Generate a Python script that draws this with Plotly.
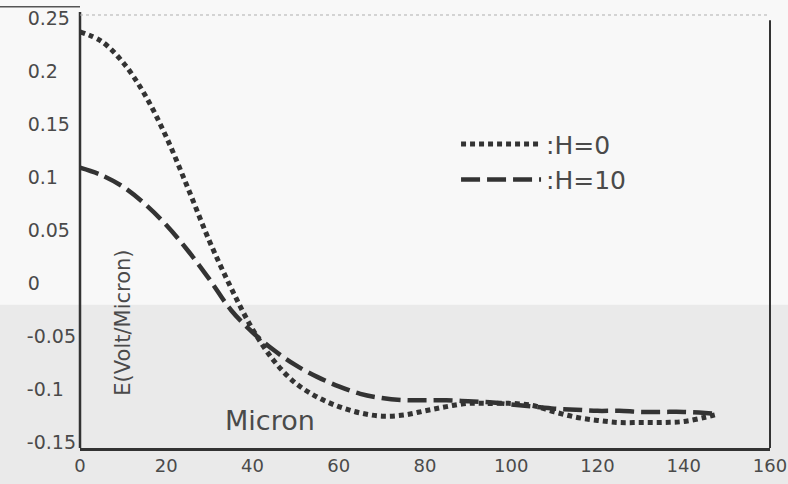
import plotly.graph_objects as go

# ---- data ----
x_h0 = [0, 5, 10, 15, 20, 25, 30, 35, 40, 45, 50, 55, 60, 65, 70, 75, 80, 85, 90,
        95, 100, 105, 110, 115, 120, 125, 130, 135, 140, 145, 148]
y_h0 = [0.237, 0.228, 0.208, 0.178, 0.138, 0.090, 0.040, -0.004, -0.043, -0.073,
        -0.094, -0.107, -0.116, -0.122, -0.125, -0.124, -0.120, -0.116, -0.113,
        -0.113, -0.113, -0.115, -0.121, -0.126, -0.129, -0.131, -0.131, -0.131,
        -0.130, -0.126, -0.123]

x_h10 = [0, 5, 10, 15, 20, 25, 30, 35, 40, 45, 50, 55, 60, 65, 70, 75, 80, 85, 90,
         95, 100, 105, 110, 115, 120, 125, 130, 135, 140, 145, 148]
y_h10 = [0.109, 0.102, 0.091, 0.075, 0.055, 0.031, 0.004, -0.025, -0.046, -0.063,
         -0.077, -0.088, -0.097, -0.104, -0.108, -0.110, -0.110, -0.110, -0.111,
         -0.112, -0.114, -0.116, -0.118, -0.119, -0.120, -0.120, -0.121, -0.121,
         -0.121, -0.122, -0.123]

series_names = [":H=0", ":H=10"]
x_ticks = [0, 20, 40, 60, 80, 100, 120, 140, 160]
y_ticks = [0.25, 0.2, 0.15, 0.1, 0.05, 0, -0.05, -0.1, -0.15]
y_tick_labels = ["0.25", "0.2", "0.15", "0.1", "0.05", "0", "-0.05", "-0.1", "-0.15"]
y_title = "E(Volt/Micron)"
x_title = "Micron"

INK = "#333333"
TXT = "#4a4a4a"
FONT = "DejaVu Sans"

# left-align the y tick labels by right-padding with fixed-width spaces
FIG = "\u2007"   # digit width
PUN = "\u2008"   # period width
def pad(s):
    target = 2.587  # width (em) of "-0.05"
    w = sum(0.361 if c == "-" else 0.318 if c == "." else 0.636 for c in s)
    out = s
    rem = target - w
    while rem > 0.6:
        out += FIG
        rem -= 0.636
    while rem > 0.2:
        out += PUN
        rem -= 0.318
    return out

fig = go.Figure()
fig.add_trace(go.Scatter(
    x=x_h0, y=y_h0, mode="lines", name=series_names[0],
    line=dict(color=INK, width=5, dash="5px,4px", shape="spline", smoothing=1.0),
))
fig.add_trace(go.Scatter(
    x=x_h10, y=y_h10, mode="lines", name=series_names[1],
    line=dict(color=INK, width=4.5, dash="19px,7px", shape="spline", smoothing=1.0),
))

shapes = [
    # scanned paper tones
    dict(type="rect", xref="paper", yref="paper", x0=-0.2, x1=1.1, y0=0.333, y1=1.1,
         fillcolor="#f8f8f8", line=dict(width=0), layer="below"),
    dict(type="rect", xref="paper", yref="paper", x0=-0.2, x1=1.1, y0=-0.1, y1=0.333,
         fillcolor="#eaeaea", line=dict(width=0), layer="below"),
    # left axis line (extends slightly above the top)
    dict(type="line", xref="paper", yref="paper", x0=0, x1=0, y0=0, y1=1.014,
         line=dict(color=INK, width=2.5)),
    # stray top-left rule
    dict(type="line", xref="paper", yref="paper", x0=-0.116, x1=0, y0=1.026, y1=1.026,
         line=dict(color="#555", width=1.5)),
    # right border
    dict(type="line", xref="paper", yref="paper", x0=1, x1=1, y0=0, y1=0.995,
         line=dict(color=INK, width=2)),
    # faint dotted top border
    dict(type="line", xref="paper", yref="paper", x0=0, x1=1, y0=1.007, y1=1.007,
         line=dict(color="#b0b0b0", width=1, dash="dot")),
]

fig.update_layout(
    template="none",
    width=788, height=484,
    margin=dict(l=80, r=18, t=18, b=36),
    paper_bgcolor="#f6f6f6",
    plot_bgcolor="rgba(0,0,0,0)",
    font=dict(family=FONT, color=TXT),
    showlegend=True,
    legend=dict(
        x=0.545, y=0.76, xanchor="left", yanchor="top",
        bgcolor="rgba(0,0,0,0)", borderwidth=0,
        font=dict(family=FONT, size=25, color=TXT),
        itemwidth=80, tracegroupgap=0,
    ),
    shapes=shapes,
    annotations=[
        dict(text=y_title, xref="paper", yref="paper", x=0.062, y=0.291,
             xanchor="center", yanchor="middle",
             textangle=-90, showarrow=False, font=dict(family=FONT, size=21, color=TXT)),
        dict(text=x_title, xref="paper", yref="paper", x=0.275, y=0.065,
             xanchor="center", yanchor="middle",
             showarrow=False, font=dict(family=FONT, size=27, color=TXT)),
    ],
)

fig.update_xaxes(
    range=[0, 160], tickvals=x_ticks, showgrid=False, zeroline=False, automargin=False,
    showline=True, linecolor=INK, linewidth=2.5, ticks="",
    tickfont=dict(family=FONT, size=18, color=TXT),
)
fig.update_yaxes(
    range=[-0.155, 0.25], tickvals=y_ticks, ticktext=[pad(t) for t in y_tick_labels],
    showgrid=False, zeroline=False, showline=False, ticks="", ticklabelstandoff=3,
    automargin=False,
    tickfont=dict(family=FONT, size=19, color=TXT),
)

fig.write_html(
    "out.html",
    config={"displayModeBar": False},
    post_script="document.body.style.margin='0px'; document.body.style.background='#f6f6f6';",
)
